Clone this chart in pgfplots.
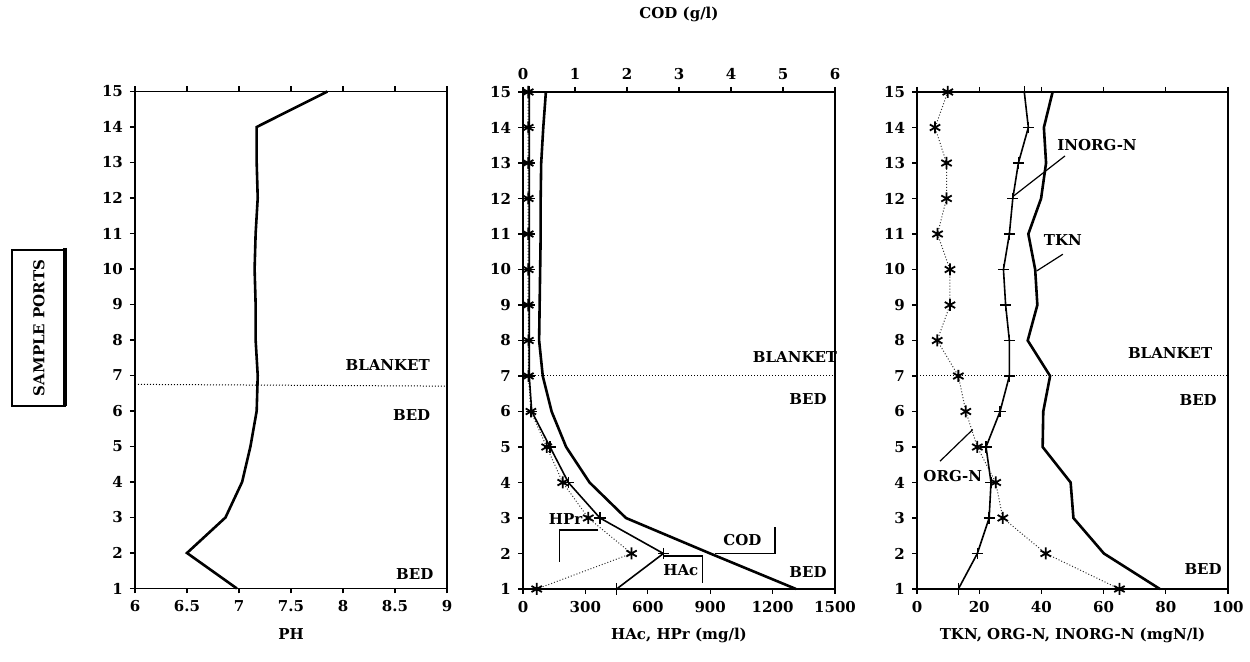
\documentclass[border=0pt]{standalone}
\usepackage{fontspec}
\setmainfont{DejaVu Serif}
\usepackage{pgfplots}
\pgfplotsset{compat=1.18}

\tikzset{lbl/.style={font=\fontsize{7.5}{9}\selectfont\bfseries, anchor=center, inner sep=0pt}}
\pgfplotsset{
  panel/.style={
    scale only axis, width=156pt, height=248.5pt, anchor=south west,
    ymin=1, ymax=15, ytick={1,2,3,4,5,6,7,8,9,10,11,12,13,14,15},
    ytick pos=left, tick align=outside, major tick length=2.5pt,
    axis line style={line width=0.8pt},
    every tick/.append style={line width=0.6pt, black},
    tick label style={font=\fontsize{7.5}{8}\selectfont\bfseries},
    /pgf/number format/assume math mode=true,
    /pgf/number format/1000 sep={},
    label style={font=\fontsize{7.5}{9}\selectfont\bfseries},
    xlabel style={at={(axis description cs:0.5,-0.0926)}, anchor=center},
    clip=false,
  },
  starser/.style={black!80, densely dotted, line width=0.5pt, mark=asterisk, mark size=3pt,
    mark options={solid, black, line width=0.9pt}},
  plusser/.style={black, line width=0.8pt, mark=+, mark size=2.8pt,
    mark options={line width=0.7pt}},
}

\begin{document}
\begin{tikzpicture}
\path[use as bounding box] (0,0) rectangle (625pt,-331pt);

% SAMPLE PORTS box
\draw[line width=0.6pt] (6pt,-125pt) rectangle (32.5pt,-203pt);
\draw[line width=1.6pt] (32.5pt,-124pt) -- (32.5pt,-203pt);
\node[lbl, rotate=90] at (19.5pt,-164pt) {SAMPLE PORTS};

% ---------- left: pH ----------
\begin{axis}[panel, at={(67.5pt,-294.25pt)},
  xmin=6, xmax=9, xtick={6,6.5,7,7.5,8,8.5,9}, xtick pos=both,
  xlabel={PH}]
\addplot[black, line width=1.3pt] coordinates {
 (7.85,15)(7.17,14)(7.17,13)(7.18,12)(7.16,11)(7.15,10)(7.16,9)(7.16,8)
 (7.18,7)(7.17,6)(7.11,5)(7.03,4)(6.87,3)(6.5,2)(6.98,1)};
\draw[densely dotted, line width=0.5pt] (axis cs:6,6.75) -- (axis cs:9,6.7);
\node[lbl] at (axis cs:8.43,7.3) {BLANKET};
\node[lbl] at (axis cs:8.66,5.89) {BED};
\node[lbl] at (axis cs:8.69,1.41) {BED};
\end{axis}

% ---------- middle: HAc, HPr ----------
\begin{axis}[panel, at={(261.5pt,-294.5pt)},
  xmin=0, xmax=1500, xtick={0,300,600,900,1200,1500}, xtick pos=bottom,
  xlabel={HAc, HPr (mg/l)}]
\addplot[starser] coordinates {
 (25,15)(25,14)(25,13)(25,12)(25,11)(25,10)(25,9)(26,8)(26,7)(38,6)
 (114,5)(191,4)(314,3)(522,2)(66,1)};
\addplot[plusser] coordinates {
 (30,15)(30,14)(30,13)(30,12)(30,11)(30,10)(30,9)(30,8)(30,7)(42,6)
 (130,5)(218,4)(370,3)(675,2)(450,1)};
\draw[densely dotted, line width=0.5pt] (axis cs:0,7) -- (axis cs:1500,7);
\node[lbl] at (axis cs:1308,7.54) {BLANKET};
\node[lbl] at (axis cs:1370,6.35) {BED};
\node[lbl] at (axis cs:1370,1.48) {BED};
\draw[line width=0.6pt] (axis cs:923,1.99) -- (axis cs:1212,1.99) -- (axis cs:1212,2.75);
\node[lbl] at (axis cs:1055,2.38) {COD};
\draw[line width=0.6pt] (axis cs:675,1.93) -- (axis cs:862,1.93) -- (axis cs:862,1.16);
\node[lbl] at (axis cs:759,1.535) {HAc};
\draw[line width=0.6pt] (axis cs:362,2.66) -- (axis cs:175,2.66) -- (axis cs:175,1.77);
\node[lbl] at (axis cs:205,2.97) {HPr};
\end{axis}

% ---------- middle: COD (top axis) ----------
\begin{axis}[panel, at={(261.5pt,-294.5pt)},
  xmin=0, xmax=6, xtick={0,1,2,3,4,5,6}, xtick pos=upper, xticklabel pos=upper,
  ytick=\empty,
  xlabel={COD (g/l)}, xlabel style={at={(axis description cs:0.5,1.155)}, anchor=center}]
\addplot[black, line width=1.3pt] coordinates {
 (0.44,15)(0.39,14)(0.35,13)(0.34,12)(0.34,11)(0.33,10)(0.32,9)(0.31,8)
 (0.38,7)(0.55,6)(0.83,5)(1.28,4)(1.98,3)(3.6,2)(5.25,1)};
\end{axis}

% ---------- right: nitrogen ----------
\begin{axis}[panel, at={(458.5pt,-294.5pt)}, width=155.5pt,
  xmin=0, xmax=100, xtick={0,20,40,60,80,100}, xtick pos=both,
  xlabel={TKN, ORG-N, INORG-N (mgN/l)}]
\addplot[starser] coordinates {
 (9.9,15)(5.8,14)(9.5,13)(9.5,12)(6.6,11)(10.6,10)(10.6,9)(6.5,8)
 (13.3,7)(15.7,6)(19.4,5)(25.3,4)(27.6,3)(41.4,2)(65.1,1)};
\addplot[plusser] coordinates {
 (34.5,15)(35.8,14)(32.6,13)(30.8,12)(29.7,11)(27.8,10)(28.5,9)(29.7,8)
 (29.7,7)(26.7,6)(22.2,5)(23.8,4)(23.2,3)(19.4,2)(13.3,1)};
\addplot[black, line width=1.3pt] coordinates {
 (43.6,15)(40.8,14)(41.5,13)(39.9,12)(35.8,11)(38.0,10)(38.7,9)(35.6,8)
 (42.8,7)(40.6,6)(40.4,5)(49.4,4)(50.3,3)(60.1,2)(78.1,1)};
\draw[densely dotted, line width=0.5pt] (axis cs:0,7) -- (axis cs:100,7);
\node[lbl] at (axis cs:81.4,7.65) {BLANKET};
\node[lbl] at (axis cs:90.4,6.32) {BED};
\node[lbl] at (axis cs:92,1.56) {BED};
\node[lbl] at (axis cs:57.9,13.5) {INORG-N};
\draw[line width=0.6pt] (axis cs:47.6,13.2) -- (axis cs:30.9,12.06);
\node[lbl] at (axis cs:46.9,10.84) {TKN};
\draw[line width=0.6pt] (axis cs:46.9,10.43) -- (axis cs:38.5,9.96);
\node[lbl] at (axis cs:11.5,4.19) {ORG-N};
\draw[line width=0.6pt] (axis cs:7.4,4.6) -- (axis cs:17.9,5.49);
\end{axis}
\end{tikzpicture}
\end{document}
